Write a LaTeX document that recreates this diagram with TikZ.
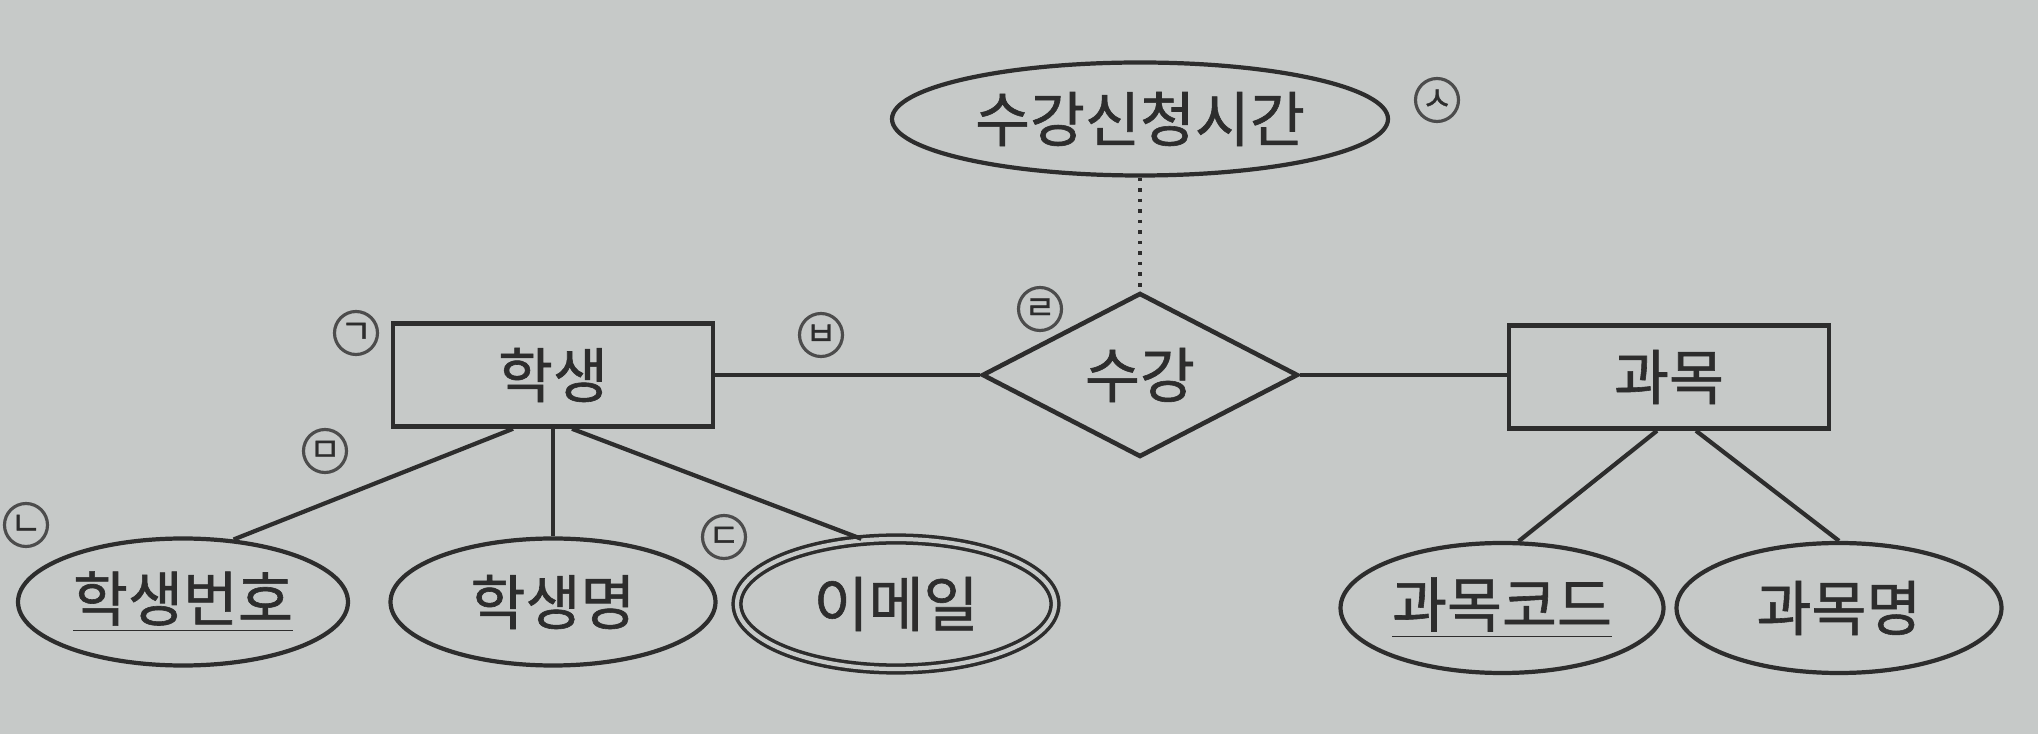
\documentclass[tikz,border=0pt]{standalone}
\usepackage{fontspec}
\setmainfont{Noto Sans CJK KR}[FakeBold=1]
\usepackage{xcolor}
\usetikzlibrary{
    shapes.geometric
}
\definecolor{bgpap}{RGB}{198,201,200}
\definecolor{ink}{RGB}{45,45,45}
\tikzset{
    entb/.style={draw=ink, line width=1.3pt, minimum width=3.2cm, minimum height=1.03cm, inner sep=0pt, text=ink, font=\fontsize{17}{19}\selectfont},
    reld/.style={diamond, draw=ink, line width=1.3pt, minimum width=3.16cm, minimum height=1.36cm, inner sep=0pt, text=ink, font=\fontsize{17}{19}\selectfont},
    atte/.style={ellipse, draw=ink, line width=1.2pt, minimum width=3.25cm, minimum height=1.27cm, inner sep=0pt, text=ink, font=\fontsize{17}{19}\selectfont},
    lbc/.style={circle, draw=ink!85, line width=0.9pt, minimum size=4.3mm, inner sep=0pt, text=ink, font=\fontsize{9.5}{10}\selectfont},
    conn/.style={draw=ink, line width=1.2pt}
}

\begin{document}
\begin{tikzpicture}
    \fill[bgpap] (0,0) rectangle (20.38,-7.34);
    \useasboundingbox (0,0) rectangle (20.38,-7.34);

    % entities and relationship
    \node[entb] (hs) at (5.53,-3.75) {학생};
    \node[entb] (gm) at (16.69,-3.77) {과목};
    \node[reld] (sg) at (11.40,-3.75) {수강};

    % attributes
    \node[atte, minimum width=4.96cm, minimum height=1.13cm] (sst) at (11.40,-1.19) {수강신청시간};
    \node[atte, minimum width=3.30cm] (hb) at (1.83,-6.02) {\underline{학생번호}};
    \node[atte] (hm) at (5.53,-6.02) {학생명};
    \node[atte, minimum width=3.18cm, minimum height=1.30cm, double=bgpap, double distance=1.2pt, line width=1pt] (em) at (8.96,-6.04) {이메일};
    \node[atte, minimum width=3.23cm, minimum height=1.30cm] (gc) at (15.02,-6.08) {\underline{과목코드}};
    \node[atte, minimum height=1.30cm] (gn) at (18.39,-6.08) {과목명};

    % connectors
    \draw[conn] (hs) -- (sg);
    \draw[conn] (sg.east) -- (sg.east -| gm.west);
    \draw[ink, line width=1pt, dotted] (sst) -- (sg);
    \draw[conn] ([xshift=-4mm]hs.south) -- (hb.51);
    \draw[conn] (hs) -- (hm);
    \draw[conn] ([xshift=1.9mm]hs.south) -- (em.118);
    \draw[conn] ([xshift=-1.2mm]gm.south) -- (gc.76);
    \draw[conn] ([xshift=2.7mm]gm.south) -- (gn.north);

    % marks
    \node[lbc] (mka) at (3.56,-3.33) {ㄱ};
    \node[lbc] (mkb) at (0.26,-5.25) {ㄴ};
    \node[lbc] (mkc) at (7.24,-5.37) {ㄷ};
    \node[lbc] (mkd) at (10.40,-3.09) {ㄹ};
    \node[lbc] (mke) at (3.25,-4.51) {ㅁ};
    \node[lbc] (mkf) at (8.21,-3.35) {ㅂ};
    \node[lbc] (mkg) at (14.37,-1.00) {ㅅ};
\end{tikzpicture}
\end{document}
